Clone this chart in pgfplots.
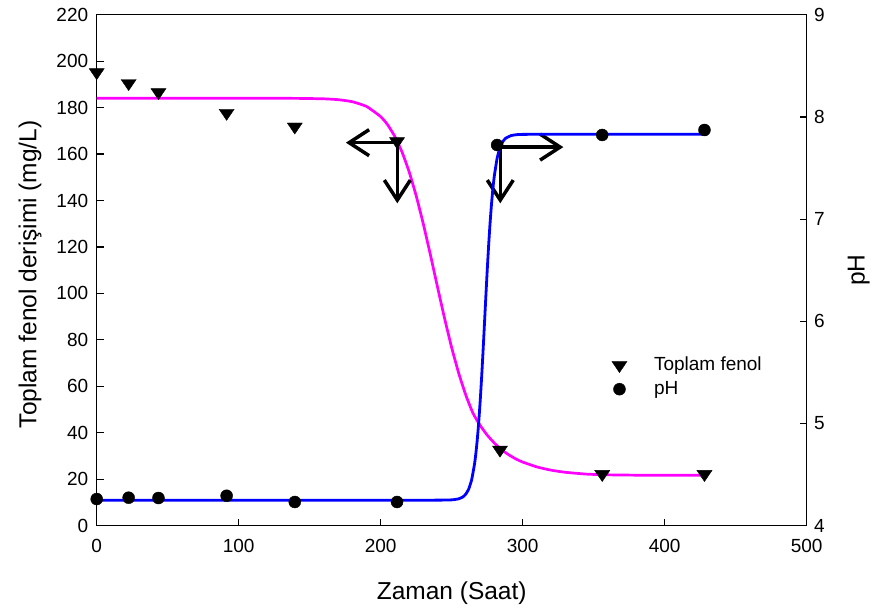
\documentclass[border=0pt]{standalone}
\usepackage{pgfplots}
\pgfplotsset{compat=1.18}
\usepackage{fontspec}
\setmainfont{Liberation Sans}
\usetikzlibrary{arrows.meta}

\definecolor{fenolpink}{RGB}{255,0,255}
\definecolor{phblue}{RGB}{0,0,255}

% measured total phenol (mg/L)
\pgfplotstableread{
t     c
0     195.2
22.5  190.5
43.5  186.6
91.5  177.7
139.5 171.8
211.5 165.5
284   32.7
356   22.2
428   22.2
}\fenoldata

% measured pH
\pgfplotstableread{
t     ph
0     4.261
22.5  4.274
43.5  4.271
91.5  4.293
139.5 4.232
211.5 4.232
282   7.725
356   7.823
428   7.872
}\phdata

% fitted total phenol curve
\pgfplotstableread{
t    c
0    184.0
100  184.0
140  183.98
160  183.78
170  183.42
180  182.54
190  180.5
200  176.1
205  172.5
210  167.5
215  160.9
220  152.4
225  142.0
230  129.9
235  116.6
240  102.75
245  89.2
250  76.6
255  65.5
260  56.1
265  48.4
270  43.2
275  39.0
280  35.6
285  32.8
290  30.6
295  28.8
300  27.4
310  25.3
320  23.9
330  23.0
345  22.2
360  21.9
390  21.7
430  21.7
}\fenolfit

% fitted pH curve
\pgfplotstableread{
t    ph
0    4.250
200  4.250
240  4.2501
250  4.2529
255  4.2633
258  4.2829
260  4.3103
262  4.3595
264  4.447
266  4.597
267  4.705
268  4.841
269  5.008
270  5.207
271  5.435
272  5.688
273  5.958
274  6.231
275  6.495
276  6.740
277  6.957
278  7.143
279  7.297
280  7.421
282  7.596
284  7.699
286  7.758
288  7.791
292  7.818
296  7.8265
300  7.829
320  7.830
360  7.830
430  7.830
}\phfit

\begin{document}
\begin{tikzpicture}
\pgfplotsset{
  every axis/.append style={
    scale only axis, width=710pt, height=511pt,
    xmin=0, xmax=500,
    tick align=inside, major tick length=7pt,
    axis line style={line width=1.3pt},
    every tick/.style={line width=1.2pt, black},
    tick label style={font=\fontsize{19}{19}\selectfont,
      /pgf/number format/assume math mode=true},
    label style={font=\fontsize{24.5}{24.5}\selectfont},
  },
}
\begin{axis}[
  ymin=0, ymax=220,
  xtick={0,100,...,500}, ytick={0,20,...,220},
  xtick pos=left, ytick pos=left,
  xticklabel style={yshift=-10pt},
  yticklabel style={xshift=-5pt},
  xlabel={Zaman (Saat)},
  ylabel={Toplam fenol derişimi (mg/L)},
  xlabel style={yshift=-22pt},
  ylabel style={yshift=8pt, xshift=-4pt},
]
\addplot[fenolpink, line width=2.7pt, smooth, tension=0.3] table[x=t, y=c] {\fenolfit};
\addplot[only marks, mark=triangle*, mark size=8.7pt,
  mark options={rotate=180, yscale=0.85, fill=black, draw=black}] table[x=t, y=c] {\fenoldata};
% trend arrows
\draw[line width=3.5pt, -{Straight Barb[length=20pt, width=26pt]}] (axis cs:214.5,164.9) -- (axis cs:175.5,164.9);
\draw[line width=3.5pt, -{Straight Barb[length=20pt, width=26pt]}] (axis cs:211.7,164.9) -- (axis cs:211.7,138.8);
\draw[line width=3.5pt, -{Straight Barb[length=20pt, width=26pt]}] (axis cs:282,163) -- (axis cs:328.6,163);
\draw[line width=3.5pt, -{Straight Barb[length=20pt, width=26pt]}] (axis cs:284.2,163) -- (axis cs:284.2,138.8);
\end{axis}

\begin{axis}[
  ymin=4, ymax=9,
  axis y line*=right, axis x line=none,
  ytick={4,...,9},
  yticklabel style={xshift=4pt},
  ylabel={pH},
  ylabel style={yshift=-16pt},
  legend style={draw=none, fill=none, inner sep=0pt,
    at={(0.7254,0.338)}, anchor=north west,
    font=\fontsize{19}{19}\selectfont,
    nodes={text height=14pt, text depth=4pt, inner ysep=3pt, inner xsep=3pt},
    /tikz/every odd column/.append style={column sep=24pt}},
  legend cell align=left,
]
\addlegendimage{only marks, mark=triangle*, mark size=8.7pt,
  mark options={rotate=180, yscale=0.85, fill=black, draw=black}}
\addlegendentry{Toplam fenol}
\addplot[phblue, line width=2.8pt, smooth, tension=0.3, forget plot] table[x=t, y=ph] {\phfit};
\addplot[only marks, mark=*, mark size=6pt, mark options={fill=black, draw=black}] table[x=t, y=ph] {\phdata};
\addlegendentry{pH}
\end{axis}

\pgfresetboundingbox
\path[use as bounding box] (current axis.south west) ++(-96.7pt,-82.3pt) rectangle ++(877pt,608pt);
\end{tikzpicture}
\end{document}
